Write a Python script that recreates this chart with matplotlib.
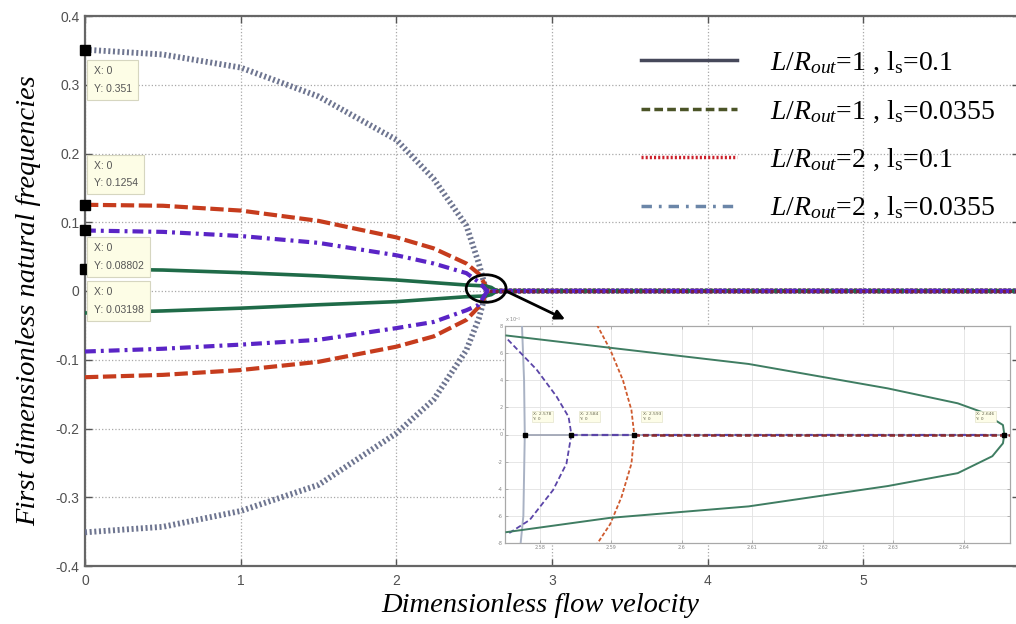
import matplotlib
matplotlib.use('Agg')
import matplotlib.pyplot as plt
from matplotlib.lines import Line2D
from matplotlib.patches import Ellipse

plt.rcParams['mathtext.fontset'] = 'custom'
plt.rcParams['mathtext.rm'] = 'Liberation Serif'
plt.rcParams['mathtext.it'] = 'Liberation Serif:italic'

# ---------------- main plot data ----------------
u_big = [0, 0.5, 1.0, 1.5, 2.0, 2.24, 2.45, 2.53, 2.578, 6.0]
f_big_pos = [0.351, 0.344, 0.325, 0.283, 0.220, 0.163, 0.095, 0.040, 0.0, 0.0]
f_big_neg = [-0.351, -0.343, -0.320, -0.282, -0.207, -0.158, -0.086, -0.040, 0.0, 0.0]

u_red = [0, 0.5, 1.0, 1.5, 2.0, 2.24, 2.45, 2.53, 2.593, 6.0]
f_red_pos = [0.1254, 0.124, 0.117, 0.102, 0.078, 0.062, 0.040, 0.025, 0.0, 0.0]
f_red_neg = [-0.1254, -0.122, -0.115, -0.103, -0.081, -0.066, -0.042, -0.023, 0.0, 0.0]

u_pur = [0, 0.5, 1.0, 1.5, 2.0, 2.24, 2.45, 2.53, 2.584, 6.0]
f_pur_pos = [0.08802, 0.086, 0.080, 0.070, 0.052, 0.040, 0.026, 0.013, 0.0, 0.0]
f_pur_neg = [-0.08802, -0.084, -0.078, -0.071, -0.054, -0.045, -0.028, -0.020, 0.0, 0.0]

u_grn = [0, 0.5, 1.0, 1.5, 2.0, 2.45, 2.575, 2.61, 2.646, 6.0]
f_grn_pos = [0.03198, 0.0305, 0.0267, 0.022, 0.016, 0.0087, 0.0073, 0.0052, 0.0, 0.0]
f_grn_neg = [-0.03198, -0.029, -0.025, -0.020, -0.0155, -0.0083, -0.0072, -0.0053, 0.0, 0.0]

tip_x = [0, 0, 0, 0]
tip_y = [0.351, 0.1254, 0.08802, 0.03198]
tip_text = ["X: 0\nY: 0.351", "X: 0\nY: 0.1254", "X: 0\nY: 0.08802", "X: 0\nY: 0.03198"]

xticks = [0, 1, 2, 3, 4, 5]
xtick_labels = ['0', '1', '2', '3', '4', '5']
yticks = [-0.4, -0.3, -0.2, -0.1, 0, 0.1, 0.2, 0.3, 0.4]
ytick_labels = ['-0.4', '-0.3', '-0.2', '-0.1', '0', '0.1', '0.2', '0.3', '0.4']

legend_labels = [r'$L/R_{out}$=1 , l$_{\mathrm{s}}$=0.1',
                 r'$L/R_{out}$=1 , l$_{\mathrm{s}}$=0.0355',
                 r'$L/R_{out}$=2 , l$_{\mathrm{s}}$=0.1',
                 r'$L/R_{out}$=2 , l$_{\mathrm{s}}$=0.0355']

# ---------------- zoomed inset data (units of 1e-3) ----------------
z_u_grn_pos = [2.5752, 2.5898, 2.6095, 2.6292, 2.6391, 2.6425, 2.6455, 2.6457]
z_f_grn_pos = [7.3, 6.4, 5.2, 3.4, 2.3, 1.66, 0.7, 0.0]
z_u_grn_neg = [2.5752, 2.5898, 2.6095, 2.6292, 2.6391, 2.6440, 2.6455, 2.6457]
z_f_grn_neg = [-7.2, -6.15, -5.3, -3.8, -2.85, -1.6, -0.65, 0.0]

z_u_pur = [2.5754, 2.5795, 2.5823, 2.5840, 2.5844, 2.5837, 2.5818, 2.5785, 2.5755]
z_f_pur = [7.0, 4.77, 2.8, 1.3, 0.0, -2.15, -4.1, -6.3, -7.3]

z_u_red = [2.5880, 2.5899, 2.5917, 2.5929, 2.5933, 2.5929, 2.5915, 2.5899, 2.5880]
z_f_red = [8.1, 6.25, 4.0, 1.8, 0.0, -2.15, -4.6, -6.6, -8.1]

z_u_gry = [2.5774, 2.5777, 2.5778, 2.5776, 2.5772]
z_f_gry = [8.1, 4.0, 0.0, -6.0, -8.1]

z_tip_x = [2.5778, 2.5844, 2.5933, 2.6457]
z_xmax = 2.6465
z_xticks = [2.58, 2.59, 2.60, 2.61, 2.62, 2.63, 2.64]
z_xtick_labels = ['2.58', '2.59', '2.6', '2.61', '2.62', '2.63', '2.64']
z_yticks = [-8, -6, -4, -2, 0, 2, 4, 6, 8]
z_ytick_labels = ['-8', '-6', '-4', '-2', '0', '2', '4', '6', '8']

# ---------------- figure ----------------
W, H = 1016, 624
fig = plt.figure(figsize=(W / 100, H / 100), dpi=100)
fig.patch.set_facecolor('white')
ax = fig.add_axes([85 / W, (H - 566) / H, (1019 - 85) / W, 550 / H])
ax.set_xlim(0, 6)
ax.set_ylim(-0.4, 0.4)

c_big = '#6e7590'
c_red = '#c63c1d'
c_pur = '#5a24c6'
c_grn = '#1f6b48'

for fy in (f_big_pos, f_big_neg):
    ax.plot(u_big, fy, color=c_big, lw=4.2, ls=(0, (0.35, 0.45)), zorder=3)
for fy in (f_red_pos, f_red_neg):
    ax.plot(u_red, fy, color=c_red, lw=3.0, ls=(0, (3.2, 1.1)), zorder=4)
for fy in (f_pur_pos, f_pur_neg):
    ax.plot(u_pur, fy, color=c_pur, lw=3.0, ls=(0, (2.6, 1.2, 0.7, 1.2)), zorder=5)
for fy in (f_grn_pos, f_grn_neg):
    ax.plot(u_grn, fy, color=c_grn, lw=2.6, zorder=4)
# dark overlay on the common zero branch
ax.plot([u_red[-2], u_red[-1]], [0, 0], color='#7a1f3a', lw=2.2, ls=(0, (1.0, 1.0)), zorder=6)

ax.plot(tip_x, tip_y, 's', color='black', ms=7, clip_on=False, zorder=8)
tip_centers = [0.307, 0.1695, 0.0495, -0.0145]
for t, yc in zip(tip_text, tip_centers):
    ax.text(0.055, yc, t, ha='left', va='center', fontsize=7.5, color='#555555',
            family='Liberation Sans', linespacing=1.9, zorder=9,
            bbox=dict(boxstyle='square,pad=0.6', fc='#fdfde6', ec='#d6d6c0', lw=0.8))

ax.set_xticks(xticks)
ax.set_xticklabels(xtick_labels)
ax.set_yticks(yticks)
ax.set_yticklabels(ytick_labels)
ax.tick_params(direction='in', top=True, right=True, length=5, width=1.0,
               color='#555555', labelcolor='#505050', labelsize=10, pad=4)
for lab in ax.get_xticklabels() + ax.get_yticklabels():
    lab.set_family('Liberation Sans')
ax.tick_params(axis='x', pad=6)
for s in ax.spines.values():
    s.set_color('#666666')
    s.set_linewidth(1.6)
ax.grid(True, ls=':', color='#a8a8a8', lw=0.9)
ax.set_axisbelow(True)

ax.set_xlabel('Dimensionless flow velocity', family='Liberation Serif', style='italic',
              fontsize=20.5, labelpad=3)
ax.xaxis.label.set_position((0.487, 0))
ax.set_ylabel('First dimensionless natural frequencies', family='Liberation Serif',
              style='italic', fontsize=20.5, labelpad=10)
ax.yaxis.label.set_position((0, 0.482))

# callout ellipse and arrow
ax.add_patch(Ellipse((2.577, 0.0036), 0.256, 0.040, fill=False, ec='black', lw=2, zorder=10))
ax.annotate('', xy=(3.10, -0.043), xytext=(2.69, 0.0015),
            arrowprops=dict(arrowstyle='-|>', color='black', lw=2, mutation_scale=14), zorder=10)

# legend (proxy handles as shown in the picture)
handles = [Line2D([], [], color='#46485a', lw=2.5),
           Line2D([], [], color='#4b5427', lw=2.5, ls=(0, (2.5, 1.2))),
           Line2D([], [], color='#cc1f2a', lw=2.5, ls=(0, (0.6, 0.6))),
           Line2D([], [], color='#6b86a8', lw=2.5, ls=(0, (3, 2, 0.8, 2)))]
leg = ax.legend(handles, legend_labels, loc='upper left', bbox_to_anchor=(641 / W, 1 - 50 / H),
                bbox_transform=fig.transFigure, frameon=False, handlelength=3.45,
                handletextpad=1.2, labelspacing=0.8, borderpad=0, borderaxespad=0,
                prop={'family': 'Liberation Serif', 'size': 20})

# ---------------- inset ----------------
ax2 = fig.add_axes([505 / W, (H - 543) / H, 505 / W, 217 / H])
ax2.set_xlim(2.575, z_xmax)
ax2.set_ylim(-8, 8)
ax2.set_facecolor('white')
ax2.plot(z_u_gry, z_f_gry, color='#a9b2c4', lw=1.4, zorder=3)
ax2.plot([z_tip_x[0], z_xmax], [0, 0], color='#9aa0b0', lw=1.2, zorder=3)
ax2.plot(z_u_pur, z_f_pur, color='#5b45a8', lw=1.3, ls=(0, (3, 1.6)), zorder=4)
ax2.plot([z_tip_x[1], z_xmax], [0, 0], color='#5b45a8', lw=1.6, ls=(0, (3, 1.6)), zorder=4)
ax2.plot(z_u_red, z_f_red, color='#cf5a2e', lw=1.3, ls=(0, (2.2, 1.2)), zorder=4)
ax2.plot([z_tip_x[2], z_xmax], [0, 0], color='#8a2a2a', lw=1.8, ls=(0, (2.2, 1.2)), zorder=5)
ax2.plot(z_u_grn_pos, z_f_grn_pos, color='#3f7d62', lw=1.4, zorder=4)
ax2.plot(z_u_grn_neg, z_f_grn_neg, color='#3f7d62', lw=1.4, zorder=4)
ax2.plot(z_tip_x, [0, 0, 0, 0], 's', color='black', ms=3.5, zorder=6, clip_on=False)
for i, xv in enumerate(z_tip_x):
    dx = 0.0012 if i < 3 else -0.0040
    ax2.text(xv + dx, 1.0, f"X: {xv:.3f}\nY: 0", fontsize=3.2, color='#666650',
             ha='left', va='bottom', zorder=7, linespacing=1.3,
             bbox=dict(boxstyle='square,pad=0.3', fc='#fdfde8', ec='#e4e4cc', lw=0.5))
ax2.set_xticks(z_xticks)
ax2.set_xticklabels(z_xtick_labels)
ax2.set_yticks(z_yticks)
ax2.set_yticklabels(z_ytick_labels)
ax2.tick_params(direction='in', top=True, right=True, length=2, width=0.5,
                color='#999999', labelcolor='#888888', labelsize=3.5, pad=1.5)
for s in ax2.spines.values():
    s.set_color('#a8a8a8')
    s.set_linewidth(0.9)
ax2.grid(True, color='#e2e2e2', lw=0.6)
ax2.set_axisbelow(True)
ax2.text(0.0, 1.01, r'x 10$^{-3}$', transform=ax2.transAxes, fontsize=3.5, color='#888888',
         ha='left', va='bottom')

fig.savefig('out.png', dpi=100)
